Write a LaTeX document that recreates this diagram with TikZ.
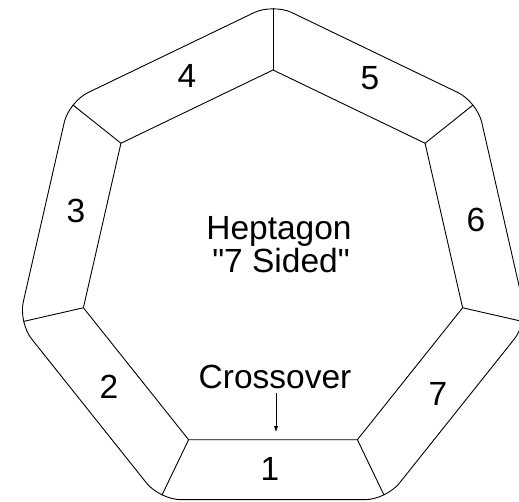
\documentclass[tikz,border=0pt]{standalone}
\usepackage{fontspec}
\newfontfamily\arialf{Liberation Sans}
\usetikzlibrary{arrows.meta,calc}
\begin{document}
\begin{tikzpicture}[x=1pt,y=-1pt,
  edge/.style={line width=0.9pt, black},
  lbl/.style={font=\arialf\fontsize{33.5}{38}\selectfont, anchor=base, inner sep=0pt},
]
\useasboundingbox (0,0) rectangle (519,502);
\fill[white] (0,0) rectangle (519,502);
\clip (0,0) rectangle (519,502);
\begin{scope}[shift={(273,264.5)}]
\foreach \k in {0,...,6}{
  \pgfmathsetmacro{\ang}{-90+\k*360/7}
  \coordinate (i\k) at (\ang:194.5);
  \coordinate (O\k) at (\ang:261);
  \coordinate (o\k) at (\ang:256);
}
\end{scope}
% inner heptagon
\draw[edge] (i0) -- (i1) -- (i2) -- (i3) -- (i4) -- (i5) -- (i6) -- cycle;
% outer rounded heptagon
\draw[edge, rounded corners=21pt] ($(O0)!0.5!(O1)$) -- (O1) -- (O2) -- (O3) -- (O4) -- (O5) -- (O6) -- (O0) -- cycle;
% spokes
\foreach \k in {0,...,6}{
  \draw[edge] (i\k) -- (o\k);
}
% segment labels
\node[lbl] (t1) at (270,480) {1};
\node[lbl] (t2) at (109,398) {2};
\node[lbl] (t3) at (76,223) {3};
\node[lbl] (t4) at (187,88) {4};
\node[lbl] (t5) at (370,90) {5};
\node[lbl] (t6) at (476,232) {6};
\node[lbl] (t7) at (438,405) {7};
% centre text
\node[lbl] (hep) at (279,240) {Heptagon};
\node[lbl] (sided) at (281,273) {"7 Sided"};
\node[lbl] (cross) at (275,388) {Crossover};
\coordinate (aS) at (276,393);
\coordinate (aE) at (276,432);
\draw[edge,-{Latex[length=6pt,width=4.5pt]}] (aS) -- (aE);
\end{tikzpicture}
\end{document}
